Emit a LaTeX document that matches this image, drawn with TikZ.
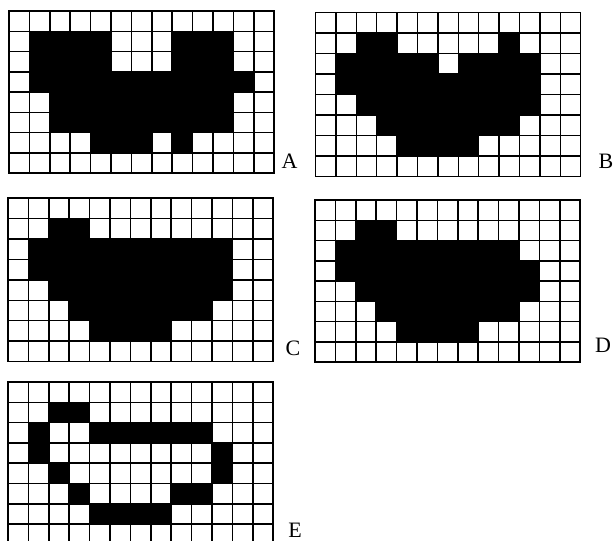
\documentclass[tikz,border=0pt]{standalone}
\usepackage{fontspec}
\setmainfont{Liberation Serif}
\tikzset{
  cellfill/.style={fill=black},
  gridline/.style={line width=1.5pt, draw=black, line cap=rect},
  panellabel/.style={font=\fontsize{22}{22}\selectfont, inner sep=0pt, anchor=center}
}
\newcommand{\pixgrid}[4]{%
  \begin{scope}[shift={(#1,#2)}, x=20.4pt, y=-#3pt]
    \foreach \r/\a/\b in {#4}{\fill[cellfill] (\a,\r) rectangle (\b+1,\r+1);}
    \foreach \i in {0,...,13}{\draw[gridline] (\i,0) -- (\i,8);}
    \foreach \j in {0,...,8}{\draw[gridline] (0,\j) -- (13,\j);}
  \end{scope}}
\begin{document}
\begin{tikzpicture}[x=1pt,y=-1pt]
\useasboundingbox[fill=white] (0,0) rectangle (614,541);
% A
\pixgrid{9}{11}{20.25}{1/1/4, 1/8/10, 2/1/4, 2/8/10, 3/1/11, 4/2/10, 5/2/10, 6/4/6, 6/8/8}
% B
\pixgrid{315.5}{12.5}{20.5}{1/2/3, 1/9/9, 2/1/5, 2/7/10, 3/1/10, 4/2/10, 5/3/9, 6/4/7}
% C
\pixgrid{8}{198}{20.45}{1/2/3, 2/1/10, 3/1/10, 4/2/10, 5/3/9, 6/4/7}
% D
\pixgrid{315}{200}{20.25}{1/2/3, 2/1/9, 3/1/10, 4/2/10, 5/3/9, 6/4/7}
% E
\pixgrid{8}{382}{20.3}{1/2/3, 2/1/1, 2/4/9, 3/1/1, 3/10/10, 4/2/2, 4/10/10, 5/3/3, 5/8/9, 6/4/7}
% labels
\node[panellabel] (labA) at (289.5,161.5) {A};
\node[panellabel] (labB) at (606,161) {B};
\node[panellabel] (labC) at (293,348) {C};
\node[panellabel] (labD) at (603,345.5) {D};
\node[panellabel] (labE) at (295,530) {E};
\end{tikzpicture}
\end{document}
